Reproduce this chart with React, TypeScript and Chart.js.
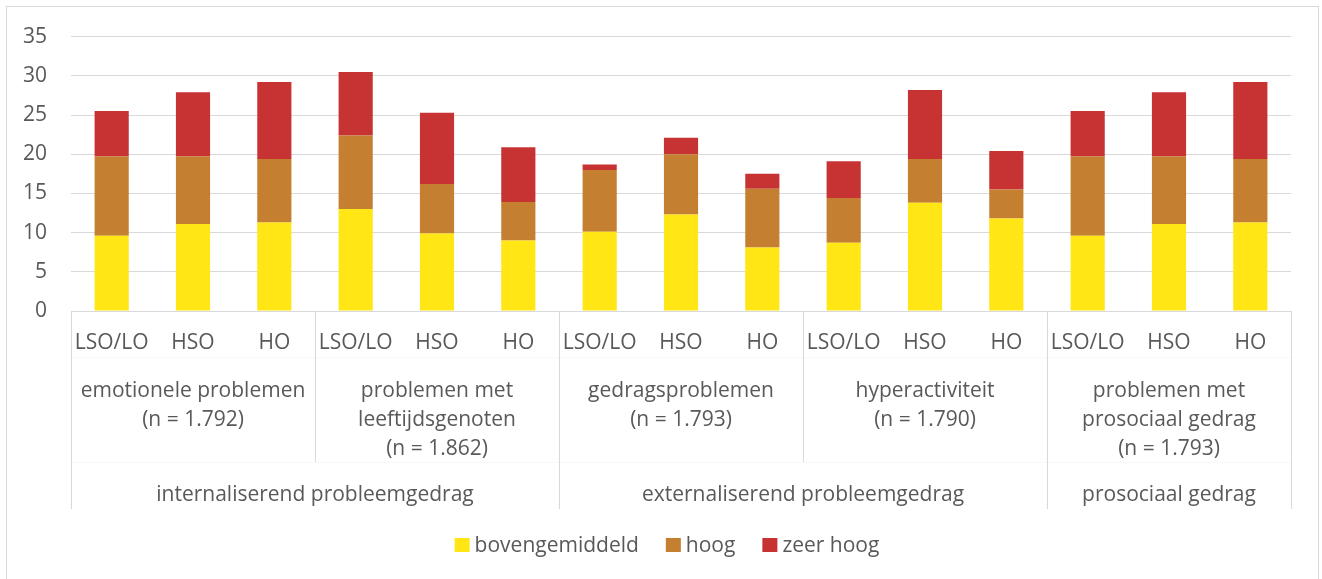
import React, { useEffect, useRef } from "react";
import { Chart, registerables } from "chart.js";
Chart.register(...registerables);

// ---- data ----
const categories = [
  "LSO/LO", "HSO", "HO",
  "LSO/LO", "HSO", "HO",
  "LSO/LO", "HSO", "HO",
  "LSO/LO", "HSO", "HO",
  "LSO/LO", "HSO", "HO",
];
const groupLabels: string[][] = [
  ["emotionele problemen", "(n = 1.792)"],
  ["problemen met", "leeftijdsgenoten", "(n = 1.862)"],
  ["gedragsproblemen", "(n = 1.793)"],
  ["hyperactiviteit", "(n = 1.790)"],
  ["problemen met", "prosociaal gedrag", "(n = 1.793)"],
];
const groupSizes = [3, 3, 3, 3, 3];
const topLabels = ["internaliserend probleemgedrag", "externaliserend probleemgedrag", "prosociaal gedrag"];
const topGroupSizes = [2, 2, 1];

const seriesNames = ["bovengemiddeld", "hoog", "zeer hoog"];
const bovengemiddeld = [9.6, 11.1, 11.3, 13.0, 9.9, 9.0, 10.1, 12.3, 8.1, 8.7, 13.8, 11.8, 9.6, 11.1, 11.3];
const hoog = [10.1, 8.6, 8.1, 9.4, 6.3, 4.9, 7.9, 7.7, 7.5, 5.7, 5.6, 3.7, 10.1, 8.6, 8.1];
const zeerHoog = [5.8, 8.2, 9.8, 8.1, 9.1, 7.0, 0.7, 2.1, 1.9, 4.7, 8.8, 4.9, 5.8, 8.2, 9.8];
const seriesColors = ["#FFE614", "#C57F31", "#C73233"];

const yMin = 0;
const yMax = 35;
const yStep = 5;

const FONT = "'Open Sans', Lato, sans-serif";
const FONT_SIZE = 21;
const TEXT = "#595959";
const LINE = "#d9d9d9";

const multiLevelPlugin = {
  id: "multiLevel",
  afterDraw(chart: any) {
    const ctx: CanvasRenderingContext2D = chart.ctx;
    const xs = chart.scales.x;
    const n = categories.length;
    const step = xs.getPixelForValue(1) - xs.getPixelForValue(0);
    const edge = (i: number) => xs.getPixelForValue(i) - step / 2;
    const base = chart.chartArea.bottom;
    const al = (v: number) => Math.round(v) + 0.5;

    ctx.save();
    // outer frame
    ctx.strokeStyle = LINE;
    ctx.lineWidth = 1;
    ctx.strokeRect(6.5, 6.5, 1312, 620);

    // axis line
    ctx.beginPath();
    ctx.moveTo(edge(0), al(base));
    ctx.lineTo(edge(n), al(base));
    ctx.stroke();

    ctx.font = `${FONT_SIZE}px ${FONT}`;
    ctx.fillStyle = TEXT;
    ctx.textAlign = "center";
    ctx.textBaseline = "middle";

    // level 1 labels
    categories.forEach((c, i) => {
      ctx.fillText(c, xs.getPixelForValue(i), base + 32);
    });

    // level 2 labels
    let idx = 0;
    const groupEdges: number[] = [];
    groupLabels.forEach((lines, g) => {
      const start = idx;
      const end = idx + groupSizes[g];
      groupEdges.push(start);
      const cx = (edge(start) + edge(end)) / 2;
      lines.forEach((ln, k) => {
        ctx.fillText(ln, cx, base + 80 + k * 29);
      });
      idx = end;
    });
    groupEdges.push(idx);

    // level 3 labels
    let gi = 0;
    const topEdges: number[] = [];
    topLabels.forEach((t, k) => {
      const startCat = groupEdges[gi];
      const endCat = groupEdges[gi + topGroupSizes[k]];
      topEdges.push(startCat);
      ctx.fillText(t, (edge(startCat) + edge(endCat)) / 2, base + 184);
      gi += topGroupSizes[k];
    });
    topEdges.push(n);

    // faint row separators
    ctx.strokeStyle = "#f8f8f8";
    ctx.beginPath();
    ctx.moveTo(edge(0), al(base + 46));
    ctx.lineTo(edge(n), al(base + 46));
    ctx.moveTo(edge(0), al(base + 151));
    ctx.lineTo(edge(n), al(base + 151));
    ctx.stroke();

    // vertical separators
    ctx.strokeStyle = LINE;
    ctx.beginPath();
    groupEdges.forEach((e) => {
      const isTop = topEdges.includes(e);
      ctx.moveTo(al(edge(e)), base);
      ctx.lineTo(al(edge(e)), base + (isTop ? 198 : 151));
    });
    ctx.stroke();

    // legend
    const ly = 545;
    const box = 14;
    const gapBoxText = 6;
    const gapItems = 27;
    const widths = seriesNames.map((s) => ctx.measureText(s).width);
    const total = widths.reduce((a, w) => a + box + gapBoxText + w, 0) + gapItems * (seriesNames.length - 1);
    let lx = 667 - total / 2;
    ctx.textAlign = "left";
    seriesNames.forEach((s, k) => {
      ctx.fillStyle = seriesColors[k];
      ctx.fillRect(lx, ly - box / 2, box + 1, box);
      ctx.fillStyle = TEXT;
      ctx.fillText(s, lx + box + gapBoxText, ly + 1);
      lx += box + gapBoxText + widths[k] + gapItems;
    });
    ctx.restore();
  },
};

export default function App() {
  const ref = useRef<HTMLCanvasElement>(null);
  useEffect(() => {
    document.body.style.margin = "0";
    const canvas = ref.current!;
    const series = [bovengemiddeld, hoog, zeerHoog];
    const chart = new Chart(canvas, {
      type: "bar",
      data: {
        labels: categories,
        datasets: series.map((d, k) => ({
          label: seriesNames[k],
          data: d,
          backgroundColor: seriesColors[k],
          borderWidth: 0,
          barPercentage: 0.42,
          categoryPercentage: 1,
        })),
      },
      options: {
        animation: false,
        responsive: false,
        devicePixelRatio: 1,
        layout: { padding: { top: 36, right: 31, bottom: 268, left: 0 } },
        plugins: { legend: { display: false }, tooltip: { enabled: false } },
        scales: {
          x: {
            stacked: true,
            display: false,
          },
          y: {
            stacked: true,
            min: yMin,
            max: yMax,
            ticks: {
              stepSize: yStep,
              color: TEXT,
              padding: 24,
              font: { family: FONT, size: FONT_SIZE },
            },
            grid: { color: LINE, drawTicks: false },
            border: { display: false },
            afterFit(scale: any) {
              scale.width = 71;
            },
          },
        },
      },
      plugins: [multiLevelPlugin],
    });
    return () => chart.destroy();
  }, []);
  return (
    <div style={{ width: 1322, height: 579 }}>
      <canvas ref={ref} width={1322} height={579} style={{ display: "block" }} />
    </div>
  );
}
